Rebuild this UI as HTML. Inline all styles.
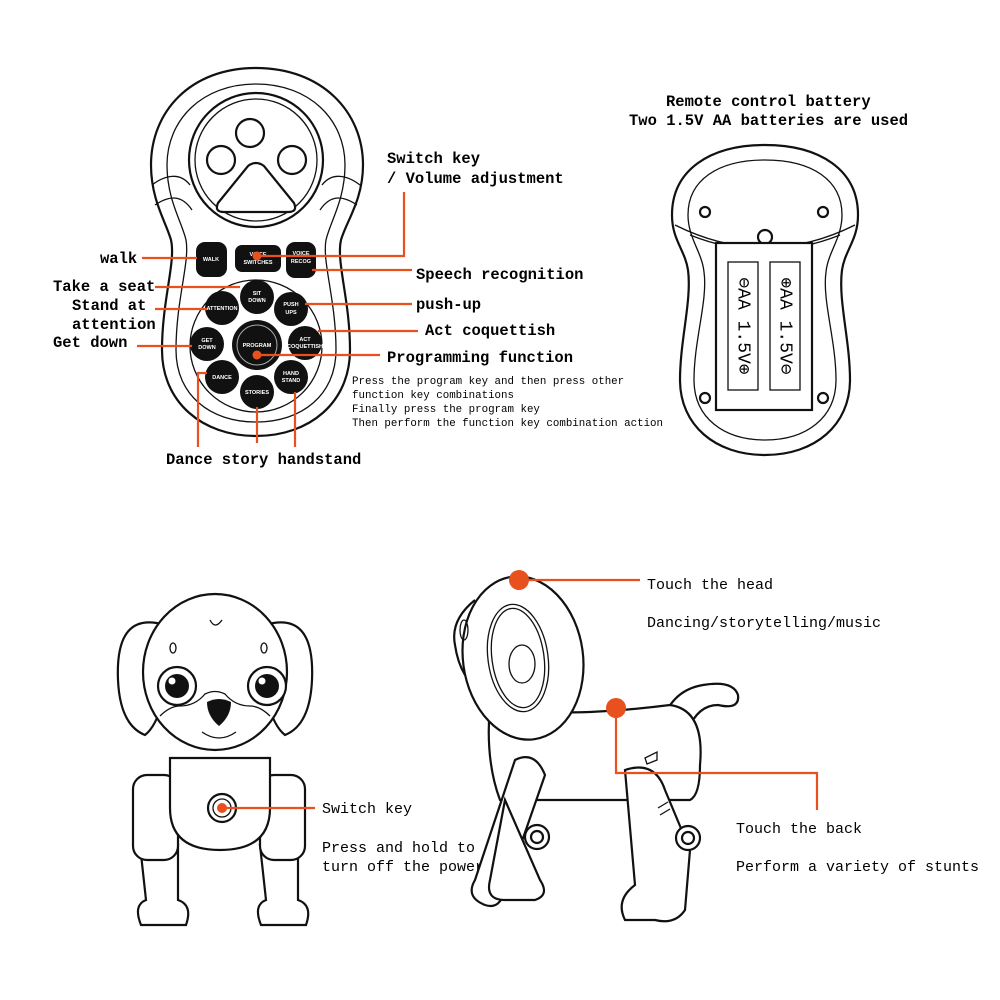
<!DOCTYPE html>
<html><head><style>
body{margin:0;background:#fff}
svg{display:block}
text{font-family:"Liberation Mono",monospace;fill:#000}
.b{font-weight:bold;font-size:15.5px}
.n{font-size:15px}
.s{font-size:10.8px}
.bt{font-family:"Liberation Sans",sans-serif;font-weight:bold;fill:#fff;font-size:5.5px;text-anchor:middle}
.o{stroke:#e8501e;stroke-width:2.2;fill:none}
.k{stroke:#111;stroke-width:2.2;fill:#fff}
.k1{stroke:#111;stroke-width:1.3;fill:none}
</style></head><body>
<svg width="1000" height="1000" viewBox="0 0 1000 1000">
<!-- REMOTE -->
<path class="k" d="M256,68 C322,68 363,112 363,165 C363,200 346,222 341,240 C336,262 350,300 350,350 C350,402 310,436 256,436 C202,436 162,402 162,350 C162,300 176,262 171,240 C166,222 151,200 151,165 C151,112 190,68 256,68 Z"/>
<path class="k1" d="M256,84 C310,84 345,120 345,165 C345,200 330,222 326,240 C322,262 336,300 336,350 C336,395 302,422 256,422 C210,422 176,395 176,350 C176,300 190,262 186,240 C182,222 167,200 167,165 C167,120 202,84 256,84 Z"/>
<path class="k1" d="M152,185 C165,175 180,172 190,185 M360,185 C347,175 332,172 322,185 M155,205 C170,195 182,195 192,210 M357,205 C342,195 330,195 320,210"/>
<circle cx="256" cy="160" r="67" class="k" stroke-width="3"/>
<circle cx="256" cy="160" r="61" class="k1"/>
<circle cx="250" cy="133" r="14" class="k"/>
<circle cx="221" cy="160" r="14" class="k"/>
<circle cx="292" cy="160" r="14" class="k"/>
<path class="k" d="M248,166 Q256,160 264,166 L294,203 Q298,212 288,212 L224,212 Q214,212 218,203 Z"/>
<circle cx="256" cy="346" r="66" class="k1" stroke-width="1.8"/>
<g fill="#111">
<rect x="196" y="242" width="31" height="35" rx="9"/>
<rect x="235" y="245" width="46" height="27" rx="7"/>
<rect x="286" y="242" width="30" height="36" rx="9"/>
<circle cx="257" cy="297" r="17"/><circle cx="222" cy="308" r="17"/><circle cx="291" cy="309" r="17"/>
<circle cx="207" cy="344" r="17"/><circle cx="257" cy="345" r="25"/><circle cx="305" cy="343" r="17"/>
<circle cx="222" cy="377" r="17"/><circle cx="257" cy="392" r="17"/><circle cx="291" cy="377" r="17"/>
</g>
<circle cx="257" cy="345" r="20" fill="none" stroke="#aaa" stroke-width="1"/>
<text class="bt" x="211" y="261">WALK</text>
<text class="bt" x="258" y="256">VOICE</text><text class="bt" x="258" y="264">SWITCHES</text>
<text class="bt" x="301" y="255">VOICE</text><text class="bt" x="301" y="263">RECOG</text>
<text class="bt" x="257" y="295">SIT</text><text class="bt" x="257" y="302">DOWN</text>
<text class="bt" x="222" y="310" font-size="4">ATTENTION</text>
<text class="bt" x="291" y="306">PUSH</text><text class="bt" x="291" y="314">UPS</text>
<text class="bt" x="207" y="342">GET</text><text class="bt" x="207" y="349">DOWN</text>
<text class="bt" x="257" y="347">PROGRAM</text>
<text class="bt" x="305" y="341">ACT</text><text class="bt" x="305" y="348" font-size="4">COQUETTISH</text>
<text class="bt" x="222" y="379">DANCE</text>
<text class="bt" x="257" y="394">STORIES</text>
<text class="bt" x="291" y="375">HAND</text><text class="bt" x="291" y="382">STAND</text>
<g class="o">
<path d="M142,258 H197"/>
<path d="M155,287 H240"/>
<path d="M155,309 H207"/>
<path d="M137,346 H192"/>
<path d="M257,256 H404 V192"/>
<path d="M312,270 H412"/>
<path d="M305,304 H412"/>
<path d="M318,331 H418"/>
<path d="M257,355 H380"/>
<path d="M207,373 H198 V447"/>
<path d="M257,407 V443"/>
<path d="M295,392 V447"/>
</g>
<circle cx="257" cy="256" r="4.5" fill="#e8501e"/>
<circle cx="257" cy="355" r="4.5" fill="#e8501e"/>
<text class="b" x="100" y="263">walk</text>
<text class="b" x="53" y="291">Take a seat</text>
<text class="b" x="72" y="310">Stand at</text>
<text class="b" x="72" y="329">attention</text>
<text class="b" x="53" y="347">Get down</text>
<text class="b" x="387" y="163">Switch key</text>
<text class="b" x="387" y="183">/ Volume adjustment</text>
<text class="b" x="416" y="279">Speech recognition</text>
<text class="b" x="416" y="309">push-up</text>
<text class="b" x="425" y="335">Act coquettish</text>
<text class="b" x="387" y="362" font-size="16.5">Programming function</text>
<text class="s" x="352" y="384">Press the program key and then press other</text>
<text class="s" x="352" y="398">function key combinations</text>
<text class="s" x="352" y="412">Finally press the program key</text>
<text class="s" x="352" y="426">Then perform the function key combination action</text>
<text class="b" x="166" y="464">Dance story handstand</text>
<!-- BATTERY REMOTE -->
<text class="b" x="666" y="106">Remote control battery</text>
<text class="b" x="629" y="125">Two 1.5V AA batteries are used</text>
<path class="k" d="M765,145 C820,145 858,170 858,215 C858,240 845,250 842,270 C838,300 850,340 850,380 C850,425 815,455 765,455 C715,455 680,425 680,380 C680,340 692,300 688,270 C685,250 672,240 672,215 C672,170 710,145 765,145 Z"/>
<path class="k1" d="M765,160 C812,160 842,180 842,215 C842,238 828,252 826,272 C822,300 836,340 836,380 C836,418 806,440 765,440 C724,440 694,418 694,380 C694,340 708,300 704,272 C702,252 688,238 688,215 C688,180 718,160 765,160 Z"/>
<path class="k1" d="M675,225 Q765,270 855,225 M690,235 Q765,265 840,235"/>
<circle cx="705" cy="212" r="5" class="k"/><circle cx="823" cy="212" r="5" class="k"/>
<circle cx="705" cy="398" r="5" class="k"/><circle cx="823" cy="398" r="5" class="k"/>
<circle cx="765" cy="237" r="7" class="k"/>
<rect x="716" y="243" width="96" height="167" class="k" stroke-width="2"/>
<rect x="728" y="262" width="30" height="128" class="k1"/>
<rect x="770" y="262" width="30" height="128" class="k1"/>
<text x="743" y="326" font-family="Liberation Sans" font-size="18" transform="rotate(90 743 326)" text-anchor="middle" dominant-baseline="middle">⊖AA 1.5V⊕</text>
<text x="785" y="326" font-family="Liberation Sans" font-size="18" transform="rotate(90 785 326)" text-anchor="middle" dominant-baseline="middle">⊕AA 1.5V⊖</text>
<!-- FRONT DOG -->
<g class="k" stroke-width="2">
<path d="M140,845 h38 v55 q15,5 8,25 h-45 q-8,-20 5,-25 z"/>
<path d="M260,845 h38 v55 q15,5 8,25 h-45 q-8,-20 5,-25 z"/>
<rect x="133" y="775" width="45" height="85" rx="14"/>
<rect x="260" y="775" width="45" height="85" rx="14"/>
<path d="M170,758 h100 v50 q0,42 -50,42 q-50,0 -50,-42 z"/>
<path d="M165,625 q-50,-15 -47,55 q2,45 27,55 q25,-20 22,-110 z"/>
<path d="M265,625 q50,-15 47,55 q-2,45 -27,55 q-25,-20 -22,-110 z"/>
<ellipse cx="215" cy="672" rx="72" ry="78"/>
</g>
<path class="k1" d="M210,620 q5,10 12,0" stroke-width="1.8"/>
<ellipse cx="173" cy="648" rx="3" ry="5" class="k1"/><ellipse cx="264" cy="648" rx="3" ry="5" class="k1"/>
<path class="k1" d="M160,716 q10,-10 20,-10 q15,0 25,-12 q10,-5 20,0 q10,12 25,12 q10,0 20,10" stroke-width="1.5"/>
<circle cx="177" cy="686" r="19" class="k" stroke-width="2"/><circle cx="177" cy="686" r="12" fill="#111"/><circle cx="172" cy="681" r="3.5" fill="#fff"/>
<circle cx="267" cy="686" r="19" class="k" stroke-width="2"/><circle cx="267" cy="686" r="12" fill="#111"/><circle cx="262" cy="681" r="3.5" fill="#fff"/>
<path d="M207,702 q12,-6 24,0 q0,14 -12,24 q-12,-10 -12,-24 z" fill="#111"/>
<path class="k1" d="M202,732 q17,12 34,0" stroke-width="2"/>
<circle cx="222" cy="808" r="14" class="k" stroke-width="2"/><circle cx="222" cy="808" r="9" class="k1"/>
<circle cx="222" cy="808" r="5" fill="#e8501e"/>
<path class="o" d="M222,808 H315"/>
<text class="n" x="322" y="813">Switch key</text>
<text class="n" x="322" y="852">Press and hold to</text>
<text class="n" x="322" y="871">turn off the power</text>
<!-- SIDE DOG -->
<g class="k" stroke-width="2">
<path d="M663,720 q10,-30 40,-35 q30,-5 35,10 q2,15 -20,10 q-20,0 -30,25 z"/>
<path d="M490,705 q60,15 180,0 q35,5 30,60 q0,30 -10,35 h-190 q-15,-40 -10,-95 z"/>
<path d="M515,760 q20,-10 30,15 l-40,115 q-5,20 -20,15 q-20,-8 -10,-25 z"/>
<path d="M505,800 l-15,80 q-5,20 15,20 h30 q15,-5 5,-20 z"/>
<path d="M625,770 q30,-10 40,20 l25,60 l-5,60 q-10,15 -30,10 h-30 q-10,-20 10,-35 z"/>
<circle cx="537" cy="837" r="12"/><circle cx="537" cy="837" r="6"/>
<circle cx="688" cy="838" r="12"/><circle cx="688" cy="838" r="6"/>
<path d="M475,600 q-25,20 -20,45 q5,35 30,50 q15,15 40,15"/>
<ellipse cx="523" cy="658" rx="60" ry="82" transform="rotate(-8 523 658)"/>
</g>
<ellipse cx="518" cy="658" rx="30" ry="54" class="k1" stroke-width="1.8" transform="rotate(-8 518 658)"/>
<ellipse cx="518" cy="658" rx="26" ry="50" class="k1" transform="rotate(-8 518 658)"/>
<ellipse cx="522" cy="664" rx="13" ry="19" class="k1" stroke-width="2"/>
<ellipse cx="464" cy="630" rx="4" ry="10" class="k1" stroke-width="2"/>
<path class="k1" d="M645,758 l12,-6 l0,8 l-10,4 z M658,808 l10,-6 M660,815 l10,-6" stroke-width="2"/>
<circle cx="519" cy="580" r="10" fill="#e8501e"/>
<circle cx="616" cy="708" r="10" fill="#e8501e"/>
<path class="o" d="M519,580 H640"/>
<path class="o" d="M616,708 V773 H817 V810"/>
<text class="n" x="647" y="589">Touch the head</text>
<text class="n" x="647" y="627">Dancing/storytelling/music</text>
<text class="n" x="736" y="833">Touch the back</text>
<text class="n" x="736" y="871">Perform a variety of stunts</text>
</svg>
</body></html>
